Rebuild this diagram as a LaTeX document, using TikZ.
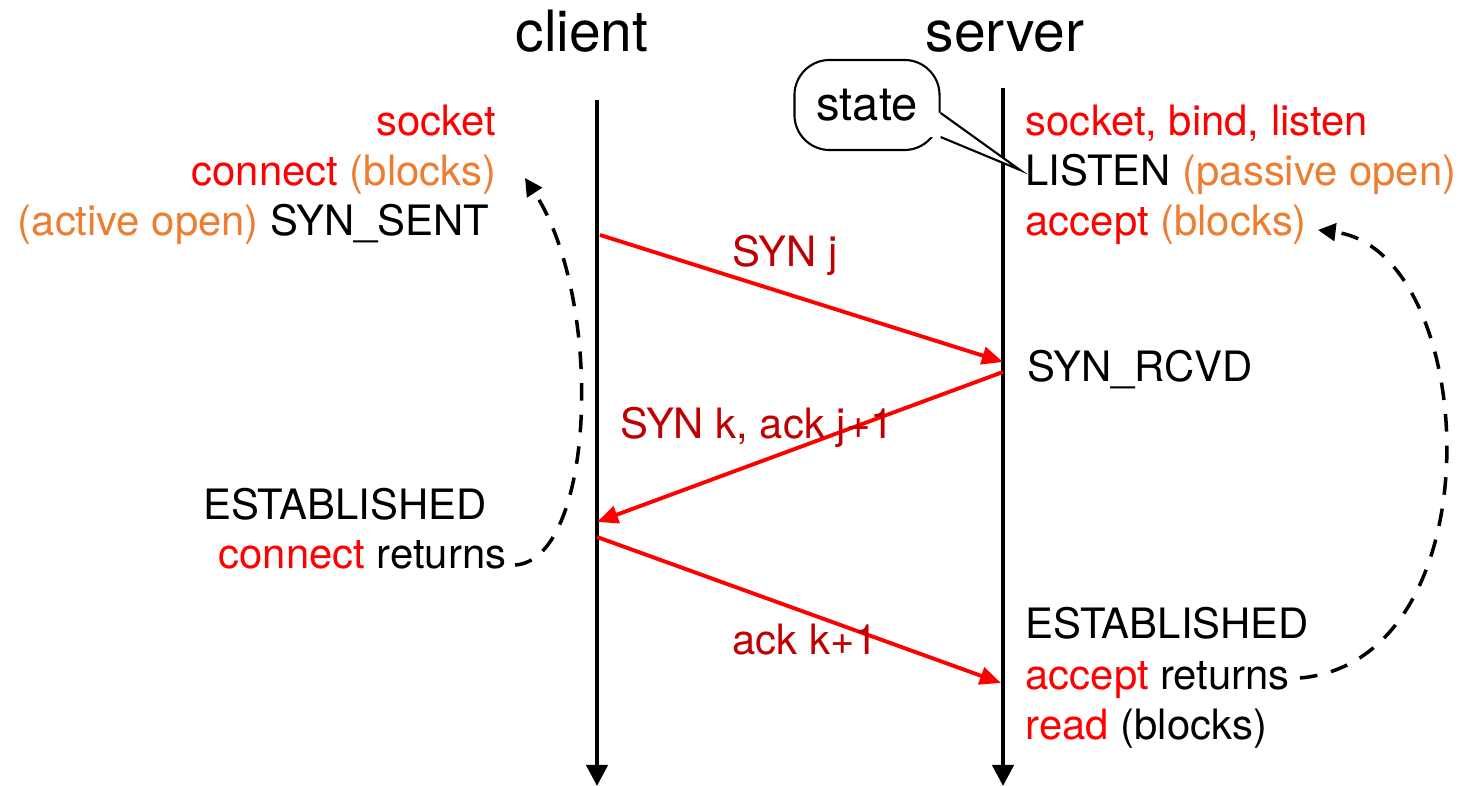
\documentclass[tikz,border=0pt]{standalone}
\usepackage{fontspec}
\setmainfont{TeX Gyre Heros}
\usetikzlibrary{arrows.meta}
\definecolor{msgred}{RGB}{192,0,0}
\definecolor{callred}{RGB}{255,0,0}
\definecolor{noteorange}{RGB}{237,125,49}

\tikzset{
  txt/.style={inner sep=0pt, font=\fontsize{11.9}{14}\selectfont},
  host/.style={inner sep=0pt, font=\fontsize{16.2}{18}\selectfont},
  lifeline/.style={line width=1.2pt, -{Triangle[length=6pt,width=6pt]}},
  msg/.style={draw=callred, line width=1.1pt, -{Triangle[length=6pt,width=5pt]}, fill=callred},
  msglabel/.style={txt, text=msgred},
  wait/.style={dashed, line width=1pt, dash pattern=on 5pt off 4pt, -{Triangle[length=5pt,width=5pt]}}
}
\newcommand{\cl}[1]{\textcolor{callred}{#1}}
\newcommand{\nt}[1]{\textcolor{noteorange}{#1}}

\begin{document}
\begin{tikzpicture}[x=0.01cm, y=-0.01cm]
	\useasboundingbox (0,0) rectangle (1461,786);

	% hosts
	\node[host, anchor=base] (client) at (582,52) {client};
	\node[host, anchor=base] (server) at (1005,52) {server};

	% lifelines
	\coordinate (ctop) at (597,100);
	\coordinate (cbot) at (597,786);
	\coordinate (stop) at (1003,88);
	\coordinate (sbot) at (1003,786);
	\draw[lifeline] (ctop) -- (cbot);
	\draw[lifeline] (stop) -- (sbot);

	% client side
	\node[txt, anchor=base east, text=callred] (csock) at (497,136) {socket};
	\node[txt, anchor=base east] (cblk) at (497,186) {\cl{connect} \nt{(blocks)}};
	\node[txt, anchor=base east] (csent) at (490,236) {\nt{(active open)} SYN\_SENT};
	\node[txt, anchor=base east] (cest) at (487,520) {ESTABLISHED};
	\node[txt, anchor=base east] (cret) at (507,569) {\cl{connect} returns};

	% server side
	\node[txt, anchor=base west, text=callred] (ssock) at (1025,136) {socket, bind, listen};
	\node[txt, anchor=base west] (slist) at (1025,186) {LISTEN \nt{(passive open)}};
	\node[txt, anchor=base west] (sblk) at (1025,236) {\cl{accept} \nt{(blocks)}};
	\node[txt, anchor=base west] (srcvd) at (1027,382) {SYN\_RCVD};
	\node[txt, anchor=base west] (sest) at (1025,639) {ESTABLISHED};
	\node[txt, anchor=base west] (sret) at (1025,690) {\cl{accept} returns};
	\node[txt, anchor=base west] (sread) at (1025,740) {\cl{read} (blocks)};

	% state callout
	\node[draw, rounded corners=10pt, line width=0.6pt, inner sep=0pt,
	      minimum width=1.45cm, minimum height=0.9cm,
	      font=\fontsize{13.4}{15}\selectfont] (state) at (867,105) {state};
	\coordinate (stip) at (1020,170);
	\fill[white] ([yshift=-0.08cm]state.east) -- (stip) -- ([yshift=-0.32cm]state.east) -- ([xshift=-3pt,yshift=-0.32cm]state.east) -- ([xshift=-3pt,yshift=-0.08cm]state.east) -- cycle;
	\draw[line width=0.6pt] ([yshift=-0.08cm]state.east) -- (stip) -- ([yshift=-0.32cm]state.east);

	% segments
	\coordinate (m1a) at (600,235);
	\coordinate (m1b) at (1003,362);
	\coordinate (m2a) at (1003,372);
	\coordinate (m2b) at (597,522);
	\coordinate (m3a) at (597,537);
	\coordinate (m3b) at (1001,683);
	\draw[msg] (m1a) -- (m1b);
	\draw[msg] (m2a) -- (m2b);
	\draw[msg] (m3a) -- (m3b);
	\node[msglabel] (l1) at (785,255) {SYN j};
	\node[msglabel] (l2) at (757,427) {SYN k, ack j+1};
	\node[msglabel] (l3) at (805,640) {ack k+1};

	% blocking
	\coordinate (cw1) at (515,565);
	\coordinate (cw2) at (525,178);
	\coordinate (sw1) at (1300,678);
	\coordinate (sw2) at (1318,230);
	\draw[wait] (cw1) .. controls (595,560) and (605,300) .. (cw2);
	\draw[wait] (sw1) .. controls (1500,660) and (1480,250) .. (sw2);
\end{tikzpicture}
\end{document}
